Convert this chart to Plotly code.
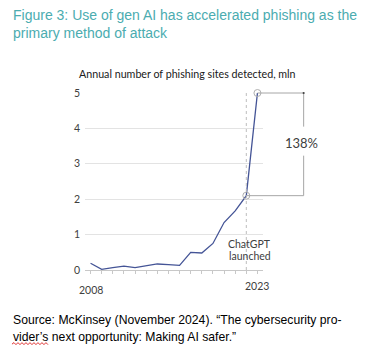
import plotly.graph_objects as go

years = list(range(2008, 2024))
sites_mln = [0.19, 0.02, 0.07, 0.11, 0.07, 0.13, 0.17, 0.15, 0.13, 0.50, 0.48, 0.75, 1.34, 1.67, 2.10, 5.00]
chatgpt_year = 2022
growth_label = "138%"
y_ticks = [0, 1, 2, 3, 4, 5]
x_labels = {2008: "2008", 2023: "2023"}

W, H = 370, 351
L, R, T, B = 85.1, 263.3, 93.3, 270.0
XR = [2007.5, 2023.5]
YR = [0, 5]

def px(x):
    return (x - L) / (R - L)

def py(y):
    return (B - y) / (B - T)

def dx(v):
    return (v - XR[0]) / (XR[1] - XR[0])

def dy(v):
    return (v - YR[0]) / (YR[1] - YR[0])

LINE = "rgb(68,84,150)"
GREY = "#a6a6a6"
TEAL = "rgb(75,172,176)"
LAB = "#404040"
FONT = "Lato"

fig = go.Figure()
fig.add_trace(go.Scatter(
    x=years, y=sites_mln, mode="lines",
    line=dict(color=LINE, width=1.3), hoverinfo="skip", cliponaxis=False))
fig.add_trace(go.Scatter(
    x=[chatgpt_year, years[-1]],
    y=[sites_mln[years.index(chatgpt_year)], sites_mln[-1]],
    mode="markers", cliponaxis=False,
    marker=dict(symbol="circle-open", size=7, color="#b0b0b0", line=dict(width=1)),
    hoverinfo="skip"))

v0 = sites_mln[years.index(chatgpt_year)]
v1 = sites_mln[-1]
bx = px(304)
shapes = [
    dict(type="line", xref="x", yref="y", x0=chatgpt_year, x1=chatgpt_year, y0=0, y1=5,
         line=dict(color="#bdbdbd", width=1, dash="dot")),
    dict(type="line", xref="paper", yref="paper", x0=dx(years[-1]), x1=bx, y0=dy(v1), y1=dy(v1),
         line=dict(color=GREY, width=1)),
    dict(type="line", xref="paper", yref="paper", x0=dx(chatgpt_year), x1=bx, y0=dy(v0), y1=dy(v0),
         line=dict(color=GREY, width=1)),
    dict(type="line", xref="paper", yref="paper", x0=bx, x1=bx, y0=dy(v1), y1=dy(4.05),
         line=dict(color=GREY, width=1)),
    dict(type="line", xref="paper", yref="paper", x0=bx, x1=bx, y0=dy(3.23), y1=dy(v0),
         line=dict(color=GREY, width=1)),
    dict(type="circle", xref="paper", yref="paper", x0=bx - 0.006, x1=bx + 0.006,
         y0=dy(v1) - 0.006, y1=dy(v1) + 0.006, fillcolor="#404040", line=dict(width=0)),
]
# spell-check squiggle under "vider's"
sq = "M %f %f" % (px(12), py(344))
xx = 12.0
up = True
while xx < 48:
    xx += 2
    sq += " L %f %f" % (px(xx), py(342.5 if up else 344.5))
    up = not up
shapes.append(dict(type="path", xref="paper", yref="paper", path=sq,
                   line=dict(color="#e03030", width=1)))

ann = []
def text(t, x, y, size, color, font=FONT, xanchor="center"):
    ann.append(dict(text=t, xref="paper", yref="paper", x=px(x), y=py(y),
                    xanchor=xanchor, yanchor="middle", showarrow=False,
                    font=dict(family=font, size=size, color=color)))

text("Figure 3: Use of gen AI has accelerated phishing as the", 11, 15, 14, TEAL, "Liberation Sans", "left")
text("primary method of attack", 11, 33.5, 14, TEAL, "Liberation Sans", "left")
text("Annual number of phishing sites detected, mln", 188, 73.5, 10.7, "#202020")
text(growth_label, 302, 143, 13, LAB)
text("ChatGPT", 250, 244, 10.5, LAB)
text("launched", 250, 256.5, 10.5, LAB)
text(x_labels[2008], 90.7, 289.5, 10.5, LAB)
text(x_labels[2023], 257.7, 286, 10.5, LAB)
text("Source: McKinsey (November 2024). \u201cThe cybersecurity pro-", 11, 320, 12.2, "#000000", "Liberation Sans", "left")
text("vider\u2019s next opportunity: Making AI safer.\u201d", 11, 337, 12.2, "#000000", "Liberation Sans", "left")

fig.update_layout(
    width=W, height=H, margin=dict(l=L, r=W - R, t=T, b=H - B),
    paper_bgcolor="white", plot_bgcolor="white", showlegend=False,
    shapes=shapes, annotations=ann,
    xaxis=dict(range=XR, tickvals=years, ticktext=[""] * len(years),
               ticks="outside", ticklen=3, tickcolor="#c8c8c8", showgrid=False,
               showline=True, linecolor="#c8c8c8", zeroline=False, fixedrange=True),
    yaxis=dict(range=YR, tickvals=y_ticks, showgrid=True, gridcolor="#e3e3e3",
               zeroline=False, showline=False, ticks="", ticklabelstandoff=4,
               tickfont=dict(family=FONT, size=10.5, color=LAB), fixedrange=True),
)
fig.write_html("out.html")
